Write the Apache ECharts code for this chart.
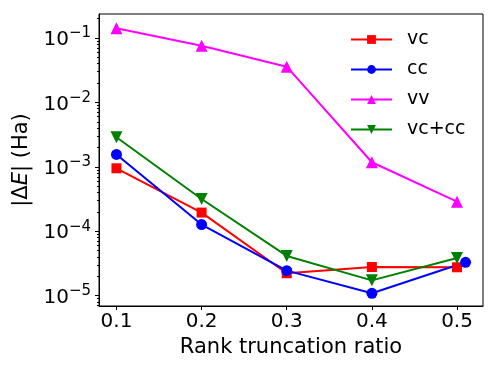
<!DOCTYPE html>
<html>
<head>
  <meta charset="utf-8">
  <script src="https://cdn.jsdelivr.net/npm/echarts@6/dist/echarts.min.js"></script>
</head>
<body style="margin:0;">
  <div id="chart" style="width:498px;height:374px;"></div>
  <script>
    // data
    var ratios = [0.1, 0.2, 0.3, 0.4, 0.5];
    var ratiosCC = [0.1, 0.2, 0.3, 0.4, 0.51];
    var vc = [9.5e-4, 1.95e-4, 2.23e-5, 2.79e-5, 2.76e-5];
    var cc = [1.56e-3, 1.27e-4, 2.45e-5, 1.09e-5, 3.3e-5];
    var vv = [0.142, 0.076, 0.0359, 1.18e-3, 2.88e-4];
    var vccc = [2.88e-3, 3.17e-4, 4.14e-5, 1.73e-5, 3.85e-5];
    var xTicks = [0.1, 0.2, 0.3, 0.4, 0.5];
    var yTicks = [1e-5, 1e-4, 1e-3, 1e-2, 1e-1];

    var minorTicks = [];
    yTicks.concat([1]).forEach(function (p) {
      for (var k = 2; k <= 9; k++) minorTicks.push(p / 10 * k);
    });

    var font = 'DejaVu Sans';
    var yMin = 6.92e-6, yMax = 0.2358;

    function pairs(xs, ys) {
      return xs.map(function (x, i) { return [x, ys[i]]; });
    }
    function mk(name, xs, ys, color, symbol, size, rot) {
      return {
        name: name,
        type: 'line',
        data: pairs(xs, ys),
        color: color,
        symbol: symbol,
        symbolSize: size,
        symbolRotate: rot || 0,
        showAllSymbol: true,
        lineStyle: { width: 2, color: color },
        itemStyle: { color: color },
        animation: false
      };
    }

    var chart = echarts.init(document.getElementById('chart'));
    chart.setOption({
      backgroundColor: '#fff',
      grid: {
        left: 99, right: 15, top: 14, bottom: 68,
        show: true, borderColor: '#000', borderWidth: 1
      },
      legend: {
        orient: 'vertical',
        left: 345, top: 25,
        itemWidth: 41, itemHeight: 11, itemGap: 11,
        textStyle: { fontFamily: font, fontSize: 19, color: '#000', lineHeight: 18, padding: [0, 0, 0, 10] },
        data: ['vc', 'cc', 'vv', 'vc+cc']
      },
      xAxis: {
        type: 'value',
        min: 0.0795, max: 0.5305,
        name: 'Rank truncation ratio',
        nameLocation: 'middle',
        nameGap: 27,
        nameTextStyle: { fontFamily: font, fontSize: 21, color: '#000' },
        splitLine: { show: false },
        axisLine: { lineStyle: { color: '#000' } },
        axisTick: { customValues: xTicks, length: 4, lineStyle: { color: '#000' } },
        axisLabel: { customValues: xTicks, margin: 6, fontFamily: font, fontSize: 20, color: '#000' }
      },
      yAxis: [{
        type: 'log',
        min: yMin, max: yMax,
        name: '|Δ{i|E}| (Ha)',
        nameLocation: 'middle',
        nameGap: 66,
        nameTextStyle: {
          fontFamily: font, fontSize: 21, color: '#000',
          rich: { i: { fontFamily: font, fontSize: 21, fontStyle: 'italic', color: '#000' } }
        },
        splitLine: { show: false },
        axisLine: { lineStyle: { color: '#000' } },
        axisTick: { customValues: yTicks, length: 4, lineStyle: { color: '#000' } },
        axisLabel: {
          customValues: yTicks,
          margin: 8,
          formatter: function (v) {
            var e = Math.round(Math.log10(v));
            return '{b|10}{s|\u2212' + (-e) + '}';
          },
          rich: {
            b: { fontFamily: font, fontSize: 20, color: '#000', lineHeight: 24, verticalAlign: 'bottom' },
            s: { fontFamily: font, fontSize: 15, color: '#000', lineHeight: 24, verticalAlign: 'top' }
          }
        }
      }, {
        type: 'log',
        min: yMin, max: yMax,
        position: 'left',
        axisLine: { show: false },
        splitLine: { show: false },
        axisLabel: { show: false },
        axisTick: { customValues: minorTicks, length: 2, lineStyle: { color: '#000' } }
      }],
      series: [
        mk('vc', ratios, vc, '#ff0000', 'rect', 10),
        mk('cc', ratiosCC, cc, '#0000ff', 'circle', 11),
        mk('vv', ratios, vv, '#ff00ff', 'triangle', 12),
        mk('vc+cc', ratios, vccc, '#008000', 'triangle', 12, 180)
      ]
    });
  </script>
</body>
</html>
